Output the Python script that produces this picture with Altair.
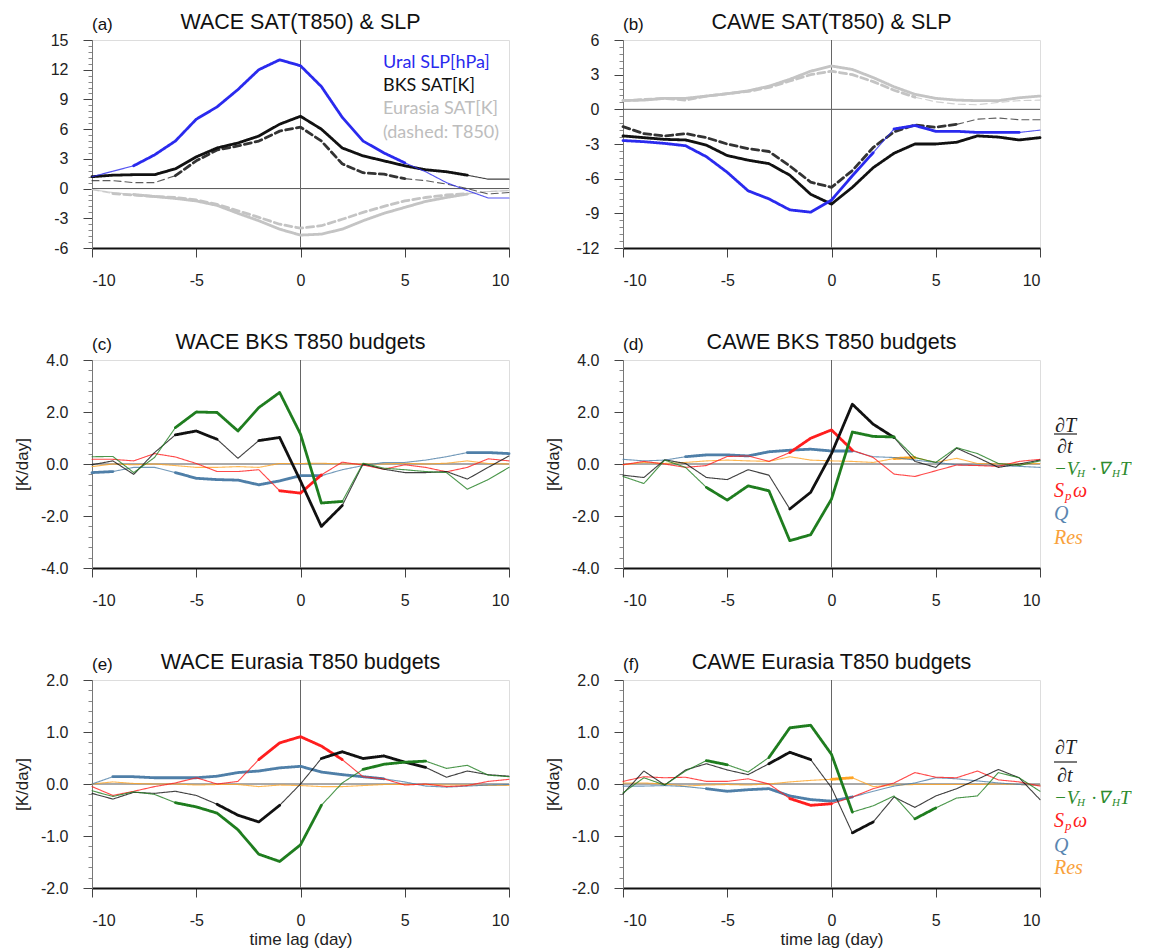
import altair as alt
import pandas as pd

LAGS = list(range(-10, 11))

# ---------------- panel (a): WACE SAT(T850) & SLP ----------------
a_slp = [1.2, 1.75, 2.3, 3.4, 4.8, 7.0, 8.25, 10.0, 12.0, 13.0, 12.4, 10.3, 7.2, 4.8, 3.6, 2.6, 1.7, 0.6, -0.2, -0.95, -0.95]
a_bks_sat = [1.2, 1.35, 1.4, 1.4, 2.0, 3.2, 4.1, 4.6, 5.3, 6.5, 7.3, 6.0, 4.1, 3.3, 2.8, 2.3, 1.9, 1.7, 1.35, 0.95, 0.95]
a_bks_t850 = [0.8, 0.8, 0.6, 0.6, 1.3, 2.8, 3.9, 4.3, 4.8, 5.8, 6.2, 4.8, 2.5, 1.6, 1.45, 1.0, 0.8, 0.45, 0.0, -0.55, -0.4]
a_eur_sat = [-0.1, -0.4, -0.6, -0.8, -1.0, -1.25, -1.7, -2.5, -3.25, -4.1, -4.7, -4.6, -4.1, -3.25, -2.5, -1.9, -1.3, -0.9, -0.55, -0.3, -0.2]
a_eur_t850 = [-0.1, -0.5, -0.65, -0.8, -0.9, -1.15, -1.6, -2.25, -2.9, -3.6, -4.0, -3.75, -3.1, -2.4, -1.8, -1.25, -0.9, -0.65, -0.5, -0.3, -0.2]
a_sig = {"slp": [(-8, 5)], "bks_sat": [(-10, 8)], "bks_t850": [(-6, 5)],
         "eur_sat": [(-8, 8)], "eur_t850": [(-9, 8)]}

# ---------------- panel (b): CAWE SAT(T850) & SLP ----------------
b_slp = [-2.7, -2.8, -2.95, -3.15, -4.1, -5.45, -7.05, -7.75, -8.7, -8.9, -7.85, -5.75, -3.75, -1.7, -1.4, -1.9, -1.9, -2.0, -2.0, -2.0, -1.8]
b_bks_sat = [-2.3, -2.45, -2.6, -2.65, -3.1, -4.0, -4.4, -4.7, -5.7, -7.35, -8.2, -6.75, -5.05, -3.8, -3.0, -3.0, -2.85, -2.3, -2.4, -2.65, -2.45]
b_bks_t850 = [-1.5, -2.1, -2.3, -2.1, -2.45, -3.0, -3.4, -3.65, -4.9, -6.3, -6.75, -5.3, -3.3, -1.95, -1.35, -1.55, -1.3, -0.85, -0.75, -0.9, -0.9]
b_eur_sat = [0.75, 0.8, 0.95, 0.95, 1.15, 1.35, 1.6, 2.0, 2.6, 3.3, 3.75, 3.45, 2.75, 1.95, 1.3, 0.95, 0.8, 0.75, 0.75, 1.0, 1.15]
b_eur_t850 = [0.75, 0.85, 0.95, 0.8, 1.15, 1.35, 1.55, 1.9, 2.45, 3.0, 3.3, 3.0, 2.4, 1.65, 1.05, 0.65, 0.45, 0.4, 0.6, 0.75, 0.8]
b_sig = {"slp": [(-10, 2), (3, 9)], "bks_sat": [(-10, 10)], "bks_t850": [(-10, 6)],
         "eur_sat": [(-10, 10)], "eur_t850": [(-10, 4)]}

# ---------------- panel (c): WACE BKS T850 budgets ----------------
c_dtdt = [-0.03, 0.12, -0.4, 0.44, 1.12, 1.27, 0.95, 0.22, 0.9, 1.02, -0.65, -2.4, -1.6, 0.0, -0.2, -0.33, -0.33, -0.29, -0.58, -0.13, 0.31]
c_adv = [0.28, 0.29, -0.33, 0.25, 1.4, 2.0, 1.98, 1.27, 2.17, 2.75, 1.15, -1.5, -1.44, 0.03, -0.16, -0.22, -0.29, -0.33, -0.97, -0.6, -0.13]
c_spw = [0.18, 0.18, 0.12, 0.4, 0.27, 0.02, -0.29, -0.29, -0.22, -1.03, -1.12, -0.42, 0.07, -0.04, -0.2, -0.03, -0.13, -0.3, -0.13, 0.2, 0.12]
c_q = [-0.33, -0.29, -0.13, -0.13, -0.33, -0.55, -0.6, -0.62, -0.8, -0.65, -0.45, -0.45, -0.22, -0.06, 0.06, 0.06, 0.15, 0.28, 0.44, 0.44, 0.4]
c_res = [-0.1, 0.0, -0.03, 0.0, -0.06, -0.13, -0.13, -0.1, -0.13, 0.02, 0.02, 0.03, 0.0, 0.0, 0.0, 0.03, 0.0, 0.03, 0.12, 0.02, 0.0]
c_sig = {"dtdt": [(-6, -4), (-2, 2)], "adv": [(-6, 2)], "spw": [(-1, 1)],
         "q": [(-10, -9), (-6, 1), (8, 10)], "res": []}

# ---------------- panel (d): CAWE BKS T850 budgets ----------------
d_dtdt = [-0.43, -0.52, 0.16, 0.02, -0.52, -0.6, -0.22, -0.43, -1.73, -1.09, 0.4, 2.3, 1.53, 1.02, 0.1, -0.13, 0.61, 0.25, -0.13, 0.0, 0.15]
d_adv = [-0.48, -0.75, 0.15, -0.13, -0.9, -1.39, -0.84, -1.03, -2.95, -2.72, -1.35, 1.23, 1.06, 1.04, 0.25, 0.06, 0.63, 0.4, 0.02, -0.06, 0.12]
d_spw = [-0.03, 0.1, 0.0, -0.13, -0.06, 0.29, 0.31, 0.1, 0.44, 0.99, 1.31, 0.53, 0.25, -0.39, -0.48, -0.26, -0.04, -0.06, -0.09, 0.1, 0.18]
d_q = [0.18, 0.12, 0.15, 0.28, 0.35, 0.35, 0.31, 0.47, 0.53, 0.57, 0.5, 0.5, 0.28, 0.25, 0.15, 0.06, -0.03, -0.04, -0.06, -0.09, -0.13]
d_res = [-0.03, 0.06, 0.02, 0.06, 0.12, 0.15, 0.12, 0.1, 0.28, 0.15, 0.12, 0.1, 0.06, 0.21, 0.25, 0.06, 0.22, 0.02, 0.0, 0.0, 0.02]
d_sig = {"dtdt": [(-2, 3)], "adv": [(-6, 3)], "spw": [(-2, 1)], "q": [(-7, 1)], "res": [(3, 4)]}

# ---------------- panel (e): WACE Eurasia T850 budgets ----------------
e_dtdt = [-0.18, -0.29, -0.16, -0.18, -0.14, -0.22, -0.39, -0.6, -0.73, -0.41, 0.0, 0.49, 0.62, 0.49, 0.54, 0.42, 0.32, 0.13, 0.25, 0.18, 0.15]
e_adv = [-0.13, -0.24, -0.15, -0.2, -0.36, -0.44, -0.56, -0.88, -1.35, -1.49, -1.17, -0.41, 0.02, 0.28, 0.38, 0.42, 0.44, 0.3, 0.36, 0.17, 0.14]
e_spw = [-0.05, -0.22, -0.14, -0.05, 0.02, 0.12, 0.0, 0.05, 0.47, 0.79, 0.91, 0.73, 0.47, 0.14, 0.1, -0.02, 0.0, -0.05, -0.03, 0.05, 0.09]
e_q = [0.0, 0.14, 0.14, 0.12, 0.12, 0.12, 0.15, 0.22, 0.25, 0.31, 0.34, 0.23, 0.18, 0.14, 0.1, 0.04, -0.04, -0.06, -0.04, -0.02, -0.01]
e_res = [0.0, 0.04, 0.01, 0.0, 0.0, -0.02, -0.01, -0.01, -0.05, -0.02, -0.03, -0.05, -0.05, -0.03, -0.01, -0.01, -0.01, -0.02, -0.02, -0.03, -0.03]
e_sig = {"dtdt": [(-4, -1), (1, 6)], "adv": [(-6, 1), (3, 6)], "spw": [(-2, 2)], "q": [(-9, 4)], "res": []}

# ---------------- panel (f): CAWE Eurasia T850 budgets ----------------
f_dtdt = [-0.19, 0.25, -0.02, 0.27, 0.39, 0.27, 0.18, 0.39, 0.61, 0.47, -0.07, -0.94, -0.73, -0.25, -0.45, -0.23, -0.09, 0.09, 0.28, 0.12, -0.3]
f_adv = [-0.17, 0.12, -0.02, 0.25, 0.45, 0.37, 0.23, 0.51, 1.08, 1.13, 0.57, -0.54, -0.42, -0.23, -0.67, -0.46, -0.27, -0.23, 0.22, 0.12, -0.14]
f_spw = [0.05, 0.14, 0.12, 0.13, 0.05, 0.05, 0.1, 0.0, -0.28, -0.41, -0.38, -0.25, -0.09, 0.02, 0.22, 0.13, 0.12, 0.25, 0.08, 0.04, -0.04]
f_q = [-0.04, -0.04, -0.03, -0.05, -0.09, -0.14, -0.11, -0.09, -0.23, -0.3, -0.33, -0.25, -0.14, -0.04, 0.02, 0.12, 0.1, 0.06, 0.02, -0.01, -0.02]
f_res = [0.02, 0.02, 0.0, -0.04, -0.02, -0.01, -0.02, 0.0, 0.04, 0.07, 0.09, 0.12, -0.05, -0.02, -0.01, -0.01, -0.01, -0.01, 0.0, -0.01, -0.02]
f_sig = {"dtdt": [(-3, -1), (1, 2)], "adv": [(-6, -5), (-3, 1), (4, 5)], "spw": [(-2, 0)], "q": [(-6, 1)], "res": [(0, 1)]}

SAT_SERIES = ["eur_sat", "eur_t850", "bks_t850", "bks_sat", "slp"]
SAT_COLORS = ["#c4c4c4", "#c4c4c4", "#333333", "#111111", "#2a2aee"]
BUD_SERIES = ["res", "q", "spw", "dtdt", "adv"]
BUD_COLORS = ["#ffa526", "#4f7fa8", "#ff1e1e", "#111111", "#1f7d1f"]

THICK, THIN = 2.8, 1.1
FONT = "Liberation Sans"
W, H = 417, 208


def runs(values, ranges, series, dash):
    rows, k, prev = [], -1, None
    for i in range(len(LAGS) - 1):
        x0, x1 = LAGS[i], LAGS[i + 1]
        thick = any(a <= x0 and x1 <= b for a, b in ranges)
        if thick != prev:
            k += 1
            prev = thick
            rows.append(dict(series=series, run=f"{series}{k}", lag=x0, value=values[i],
                             w=THICK if thick else THIN, op=1.0 if thick else 0.8, dash=dash))
        rows.append(dict(series=series, run=f"{series}{k}", lag=x1, value=values[i + 1],
                         w=THICK if thick else THIN, op=1.0 if thick else 0.8, dash=dash))
    return rows


def text_layer(txt, x, y, color="#111", size=16, font=FONT, style="normal", align="left", baseline="middle"):
    return alt.Chart(pd.DataFrame({"k": [0]})).mark_text(
        align=align, baseline=baseline, fontSize=size, font=font, fontStyle=style, color=color
    ).encode(x=alt.value(x), y=alt.value(y), text=alt.value(txt))


NEG_LABEL = "datum.value < 0 ? '-' + format(-datum.value, '{f}') : format(datum.value, '{f}')"


def panel(series_data, sig, order, colors, ydom, ymaj, ystep, fmt, title, letter, ytitle, xtitle, extra):
    rows = []
    for name in order:
        vals, dash = series_data[name]
        rows += runs(vals, sig[name], name, dash)
    df = pd.DataFrame(rows)
    xscale = alt.Scale(domain=[-10, 10], nice=False, zero=False)
    yscale = alt.Scale(domain=ydom, nice=False, zero=False)
    xaxis = alt.Axis(values=[-10, -5, 0, 5, 10], labelExpr=NEG_LABEL.format(f="d"), title=xtitle, grid=False,
                     labelFontSize=16, labelPadding=15, tickSize=9, tickColor="#444",
                     domainColor="#111", domainWidth=2, labelColor="#222", labelFont=FONT,
                     titleFontSize=17, titleFontWeight="normal", titlePadding=3, titleColor="#222",
                     titleFont=FONT)
    yaxis = alt.Axis(values=ymaj, labelExpr=NEG_LABEL.format(f=fmt), title=ytitle, grid=False, orient="left",
                     labelFontSize=16, labelPadding=15, tickSize=9, tickColor="#444",
                     domainColor="#777", domainWidth=1, labelColor="#222", labelFont=FONT,
                     titleFontSize=17, titleFontWeight="normal", titlePadding=9, titleColor="#222",
                     titleFont=FONT)
    minor = []
    v = ydom[0]
    while v <= ydom[1] + 1e-9:
        minor.append(round(v, 3))
        v += ystep
    yminor = alt.Axis(values=minor, labels=False, title=None, grid=False, orient="left",
                      tickSize=4, tickColor="#888", domain=False)

    lines = alt.Chart(df).mark_line(strokeJoin="round", strokeCap="round").encode(
        x=alt.X("lag:Q", scale=xscale, axis=xaxis),
        y=alt.Y("value:Q", scale=yscale, axis=yaxis),
        color=alt.Color("series:N", scale=alt.Scale(domain=order, range=colors), legend=None),
        strokeWidth=alt.StrokeWidth("w:Q", scale=None),
        opacity=alt.Opacity("op:Q", scale=None),
        strokeDash=alt.StrokeDash("dash:N", scale=alt.Scale(domain=["solid", "dashed"], range=[[1, 0], [7, 4]]), legend=None),
        detail="run:N",
    )
    zero = alt.Chart(pd.DataFrame({"value": [0]})).mark_rule(color="#555", strokeWidth=1).encode(
        y=alt.Y("value:Q", scale=yscale, axis=yminor))
    vline = alt.Chart(pd.DataFrame({"lag": [0]})).mark_rule(color="#666", strokeWidth=1).encode(
        x=alt.X("lag:Q", scale=xscale, axis=xaxis))
    lab = text_layer(letter, 0, -10, size=17, baseline="alphabetic")
    ttl = text_layer(title, W / 2, -11, size=21.5, align="center", baseline="alphabetic")
    ch = alt.layer(zero, vline, lines, lab, ttl, *extra).resolve_axis(y="independent").properties(
        width=W, height=H)
    return ch


def sat_legend():
    return [
        text_layer("Ural SLP[hPa]", 291, 23, color="#2a2aee", size=18, font="Lato"),
        text_layer("BKS SAT[K]", 291, 46, color="#111", size=18, font="Lato"),
        text_layer("Eurasia SAT[K]", 291, 69, color="#bdbdbd", size=18, font="Lato"),
        text_layer("(dashed: T850)", 291, 93, color="#bdbdbd", size=18, font="Lato"),
    ]


def bud_legend(ys):
    y_dT, y_bar, y_dt, y_adv, y_spw, y_q, y_res = ys
    X = 431
    SF = "Liberation Serif"
    green, red, blue, orange = "#2e8b2e", "#ff2020", "#5b86b0", "#f9a13a"
    bar = alt.Chart(pd.DataFrame({"k": [0]})).mark_rule(color="#222", strokeWidth=1.2).encode(
        x=alt.value(X), x2=alt.value(X + 23), y=alt.value(y_bar))
    return [
        text_layer("∂T", X + 1, y_dT, color="#222", size=20, font=SF, style="italic"),
        bar,
        text_layer("∂t", X + 3, y_dt, color="#222", size=20, font=SF, style="italic"),
        text_layer("−V", X, y_adv, color=green, size=19, font=SF, style="italic"),
        text_layer("H", X + 23, y_adv + 5, color=green, size=11, font=SF, style="italic"),
        text_layer("·", X + 37, y_adv, color=green, size=19, font=SF, style="normal"),
        text_layer("∇", X + 44, y_adv, color=green, size=17, font=SF, style="italic"),
        text_layer("H", X + 58, y_adv + 5, color=green, size=11, font=SF, style="italic"),
        text_layer("T", X + 66, y_adv, color=green, size=19, font=SF, style="italic"),
        text_layer("S", X, y_spw, color=red, size=20, font=SF, style="italic"),
        text_layer("p", X + 11, y_spw + 5, color=red, size=13, font=SF, style="italic"),
        text_layer("ω", X + 19, y_spw, color=red, size=20, font=SF, style="italic"),
        text_layer("Q", X, y_q, color=blue, size=20, font=SF, style="italic"),
        text_layer("Res", X, y_res, color=orange, size=20, font=SF, style="italic"),
    ]


def sat_data(slp, bsat, bt850, esat, et850):
    return {"slp": (slp, "solid"), "bks_sat": (bsat, "solid"), "bks_t850": (bt850, "dashed"),
            "eur_sat": (esat, "solid"), "eur_t850": (et850, "dashed")}


def bud_data(dtdt, adv, spw, q, res):
    return {"dtdt": (dtdt, "solid"), "adv": (adv, "solid"), "spw": (spw, "solid"),
            "q": (q, "solid"), "res": (res, "solid")}


pa = panel(sat_data(a_slp, a_bks_sat, a_bks_t850, a_eur_sat, a_eur_t850), a_sig, SAT_SERIES, SAT_COLORS,
           [-6, 15], list(range(-6, 16, 3)), 0.6, "d", "WACE SAT(T850) & SLP", "(a)", None, None, sat_legend())
pb = panel(sat_data(b_slp, b_bks_sat, b_bks_t850, b_eur_sat, b_eur_t850), b_sig, SAT_SERIES, SAT_COLORS,
           [-12, 6], list(range(-12, 7, 3)), 0.6, "d", "CAWE SAT(T850) & SLP", "(b)", None, None, [])
pc = panel(bud_data(c_dtdt, c_adv, c_spw, c_q, c_res), c_sig, BUD_SERIES, BUD_COLORS,
           [-4, 4], [-4, -2, 0, 2, 4], 0.4, ".1f", "WACE BKS T850 budgets", "(c)", "[K/day]", None, [])
pd_ = panel(bud_data(d_dtdt, d_adv, d_spw, d_q, d_res), d_sig, BUD_SERIES, BUD_COLORS,
            [-4, 4], [-4, -2, 0, 2, 4], 0.4, ".1f", "CAWE BKS T850 budgets", "(d)", "[K/day]", None,
            bud_legend([66, 74, 87, 109, 131, 154, 178]))
pe = panel(bud_data(e_dtdt, e_adv, e_spw, e_q, e_res), e_sig, BUD_SERIES, BUD_COLORS,
           [-2, 2], [-2, -1, 0, 1, 2], 0.2, ".1f", "WACE Eurasia T850 budgets", "(e)", "[K/day]", "time lag (day)", [])
pf = panel(bud_data(f_dtdt, f_adv, f_spw, f_q, f_res), f_sig, BUD_SERIES, BUD_COLORS,
           [-2, 2], [-2, -1, 0, 1, 2], 0.2, ".1f", "CAWE Eurasia T850 budgets", "(f)", "[K/day]", "time lag (day)",
           bud_legend([68, 82, 96, 118, 141, 166, 188]))

chart = alt.concat(pa, pb, pc, pd_, pe, pf, columns=2, spacing={"row": 112, "column": 114}, bounds="flush"
                   ).resolve_scale(color="independent"
                   ).properties(padding={"left": 4, "top": 3, "right": 0, "bottom": 0}
                   ).configure_view(stroke="#555", strokeWidth=1
                   ).configure(font=FONT, background="white")

chart.save("out.html", embed_options={"renderer": "svg", "actions": False})
